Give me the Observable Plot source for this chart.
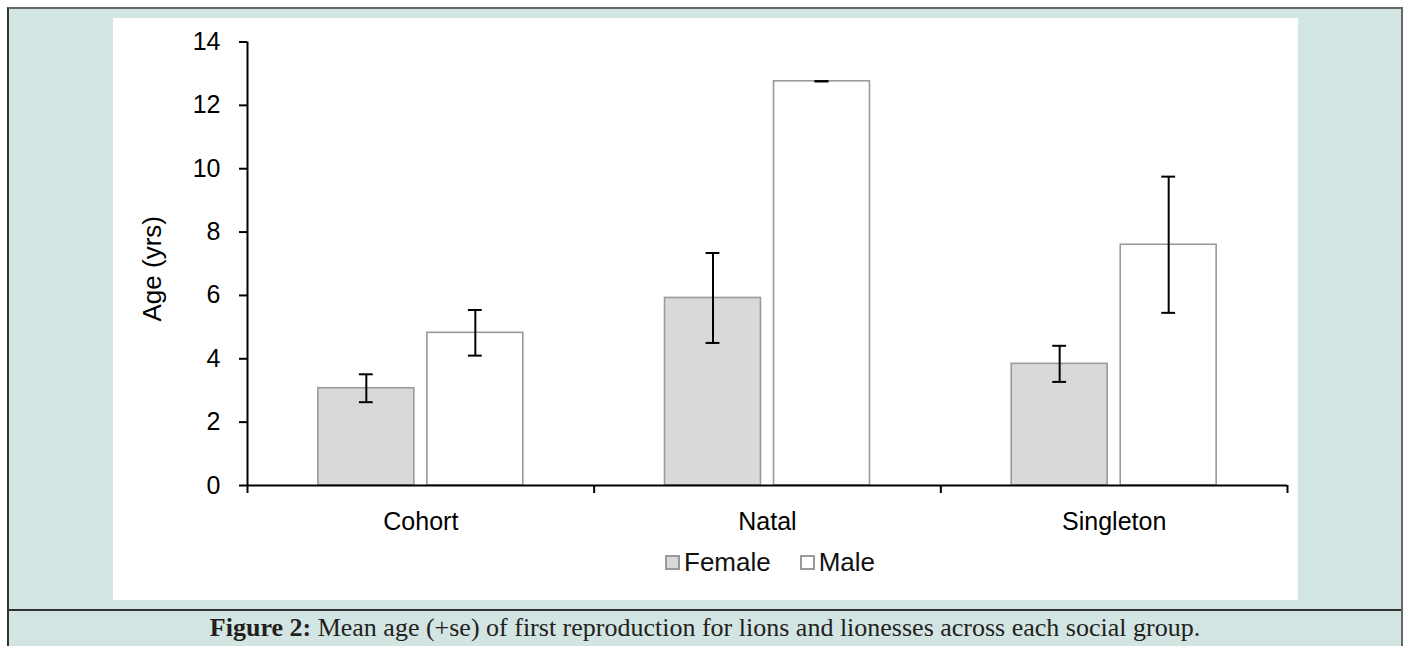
<!DOCTYPE html>
<html>
<head>
<meta charset="utf-8">
<script src="https://cdn.jsdelivr.net/npm/d3@7"></script>
<script src="https://cdn.jsdelivr.net/npm/@observablehq/plot@0.6"></script>
<style>
  html, body { margin: 0; padding: 0; background: #fff; }
  body { width: 1405px; height: 646px; position: relative; overflow: hidden;
         font-family: "Liberation Sans", Arial, sans-serif; }
  #box { position: absolute; left: 7px; top: 7px; width: 1392px; height: 660px;
         background: #d2e5e3; border-top: 2px solid #666; border-left: 2px solid #333;
         border-right: 2px solid #666; }
  #panel { position: absolute; left: 113px; top: 18px; width: 1185px; height: 582px; background: #fff; }
  #chart { position: absolute; left: 0; top: 0; }
  #legend { position: absolute; left: 552px; top: 529px; display: flex; align-items: center;
            font-size: 26px; color: #111; }
  #legend .sw { display: inline-block; width: 11px; height: 11px; border: 2px solid #9a9a9a; margin-right: 4px; }
  #legend .item { display: flex; align-items: center; margin-right: 29px; }
  #sep { position: absolute; left: 9px; top: 609px; width: 1392px; height: 2px; background: #333; }
  #caption { position: absolute; left: 9px; top: 613px; width: 1392px; text-align: center;
             font-family: "Liberation Serif", "Times New Roman", serif; font-size: 26px; color: #231f20; }
</style>
</head>
<body>
<div id="box"></div>
<div id="panel">
  <div id="chart"></div>
  <div id="legend"></div>
</div>
<div id="sep"></div>
<div id="caption"><b>Figure 2:</b> Mean age (+se) of first reproduction for lions and lionesses across each social group.</div>
<script>
// Mean age at first reproduction (years) and standard error, by social group and sex
const groups = ["Cohort", "Natal", "Singleton"];
const sexes = ["Female", "Male"];
const femaleMean = [3.07, 5.92, 3.84];
const femaleSE = [0.44, 1.42, 0.57];
const maleMean = [4.82, 12.76, 7.6];
const maleSE = [0.72, 0, 2.15];
const yTicks = [0, 2, 4, 6, 8, 10, 12, 14];
const sexColors = ["#d9d9d9", "#ffffff"];

const rows = groups.flatMap((group, i) => [
  {group, i, sex: "Female", mean: femaleMean[i], se: femaleSE[i]},
  {group, i, sex: "Male", mean: maleMean[i], se: maleSE[i]}
]);

// Each group occupies one unit of x; the two sexes sit side by side inside it
const inner = d3.scaleBand().domain(sexes).range([0, 1]).paddingInner(0.12).paddingOuter(0.65);
for (const d of rows) {
  d.x1 = d.i + inner(d.sex);
  d.x2 = d.x1 + inner.bandwidth();
  d.xc = (d.x1 + d.x2) / 2;
}
const cap = 0.02; // half-width of the error-bar caps, in group units

const chart = Plot.plot({
  width: 1185,
  height: 530,
  marginLeft: 134,
  marginRight: 11,
  marginTop: 23.5,
  marginBottom: 63,
  x: {type: "linear", domain: [0, groups.length]},
  y: {domain: [0, 14]},
  color: {domain: sexes, range: sexColors},
  style: {fontFamily: "'Liberation Sans', Arial, sans-serif", fontSize: "25px", color: "#000", background: "transparent", overflow: "visible"},
  marks: [
    Plot.rect(rows, {x1: "x1", x2: "x2", y1: 0, y2: "mean", fill: "sex", stroke: "#9a9a9a", strokeWidth: 1.6}),
    Plot.ruleX(rows, {x: "xc", y1: d => d.mean - d.se, y2: d => d.mean + d.se, stroke: "#000", strokeWidth: 2}),
    Plot.ruleY(rows, {y: d => d.mean + d.se, x1: d => d.xc - cap, x2: d => d.xc + cap, stroke: "#000", strokeWidth: 2}),
    Plot.ruleY(rows, {y: d => d.mean - d.se, x1: d => d.xc - cap, x2: d => d.xc + cap, stroke: "#000", strokeWidth: 2}),
    Plot.ruleX([0], {y1: 0, y2: 14, stroke: "#000", strokeWidth: 2}),
    Plot.ruleY([0], {stroke: "#000", strokeWidth: 2}),
    Plot.axisY({ticks: yTicks, tickSize: 8, tickPadding: 19, strokeWidth: 2, label: null, tickFormat: d => d}),
    Plot.axisX({ticks: d3.range(groups.length + 1), tickSize: 8, strokeWidth: 2, tickFormat: () => "", label: null}),
    Plot.axisX({ticks: groups.map((g, i) => i + 0.5), tickSize: 0, tickPadding: 27, tickFormat: v => groups[Math.round(v - 0.5)], label: null}),
    Plot.text(["Age (yrs)"], {frameAnchor: "left", textAnchor: "middle", rotate: -90, dx: -95, dy: 5, fontSize: 26})
  ]
});
document.getElementById("chart").append(chart);

// Legend: outlined swatches matching the bar fills
const legend = document.getElementById("legend");
sexes.forEach((s, k) => {
  const item = document.createElement("span");
  item.className = "item";
  const sw = document.createElement("span");
  sw.className = "sw";
  sw.style.background = sexColors[k];
  const label = document.createElement("span");
  label.textContent = s;
  item.append(sw, label);
  legend.append(item);
});
</script>
</body>
</html>
